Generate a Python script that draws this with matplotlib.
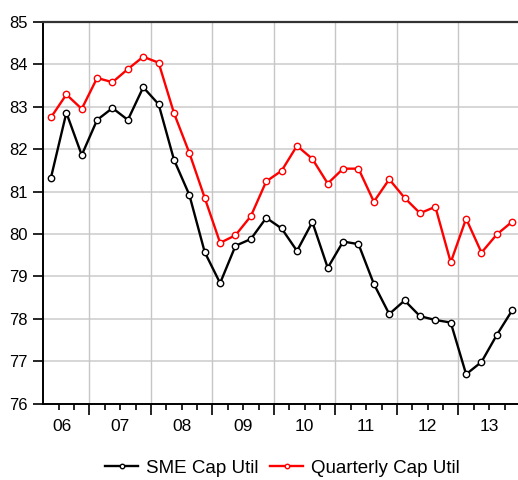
import matplotlib
matplotlib.use("Agg")
import matplotlib.pyplot as plt
from matplotlib.transforms import blended_transform_factory
import numpy as np

plt.rcParams['font.family'] = ['Liberation Sans', 'DejaVu Sans']

# Quarterly data 2006Q2 .. 2013Q4
start_year, start_q = 2006, 2
sme_cap_util = [81.33, 82.86, 81.86, 82.69, 82.97, 82.69, 83.46, 83.06,
                81.75, 80.92, 79.57, 78.84, 79.72, 79.88, 80.38, 80.13,
                79.60, 80.28, 79.20, 79.82, 79.76, 78.82, 78.11, 78.43,
                78.06, 77.97, 77.91, 76.69, 76.98, 77.62, 78.20]
quarterly_cap_util = [82.75, 83.29, 82.95, 83.68, 83.58, 83.89, 84.18, 84.04,
                      82.85, 81.91, 80.85, 79.79, 79.97, 80.42, 81.24, 81.49,
                      82.08, 81.77, 81.19, 81.54, 81.54, 80.76, 81.29, 80.85,
                      80.49, 80.64, 79.33, 80.36, 79.56, 79.99, 80.29]
year_labels = ['06', '07', '08', '09', '10', '11', '12', '13']
series_names = ['SME Cap Util', 'Quarterly Cap Util']

n = len(sme_cap_util)
t0 = start_year + (start_q - 1) / 4.0
x = t0 + np.arange(n) / 4.0 + 0.125

W, H = 518, 480
fig = plt.figure(figsize=(W / 100, H / 100), dpi=100)
left_px, top_px, bottom_px = 43.3, 22.0, 403.5
ax = fig.add_axes([left_px / W, (H - bottom_px) / H,
                   (518 - left_px) / W + 0.01, (bottom_px - top_px) / H])
x_right = t0 + ((518 - left_px) + 0.01 * W) / 61.5

ax.set_xlim(t0, x_right)
ax.set_ylim(76, 85)

# grid
years = np.arange(start_year + 1, 2014)
for yv in range(77, 85):
    ax.axhline(yv, color='#d6d6d6', lw=1.4, zorder=0)
for xv in years:
    ax.axvline(xv, color='#c6c6c6', lw=1.0, zorder=0)

ax.plot(x, sme_cap_util, color='black', lw=1.7, marker='o', ms=4.6,
        mfc='white', mec='black', mew=1.0, label=series_names[0], zorder=3)
ax.plot(x, quarterly_cap_util, color='#ff0000', lw=1.7, marker='o', ms=4.6,
        mfc='white', mec='#ff0000', mew=1.0, label=series_names[1], zorder=3)

# spines
ax.spines['right'].set_visible(False)
for s in ['left', 'bottom']:
    ax.spines[s].set_color('black')
    ax.spines[s].set_linewidth(1.4)
ax.spines['top'].set_color('#333333')
ax.spines['top'].set_linewidth(1.6)

# y ticks
ax.set_yticks(range(76, 86))
ax.tick_params(axis='y', direction='out', length=7, width=1.2, pad=4,
               labelsize=12, colors='black')

# x ticks: year boundaries major, quarters minor, labels as text
ax.set_xticks(years)
ax.set_xticklabels([])
quarters = np.arange(t0 + 0.25, x_right, 0.25)
ax.set_xticks([q for q in quarters if abs(q - round(q)) > 1e-6], minor=True)
ax.tick_params(axis='x', which='major', direction='out', length=8, width=1.2)
ax.tick_params(axis='x', which='minor', direction='out', length=4, width=1.2)

trans = blended_transform_factory(ax.transData, ax.transAxes)
label_pos = [t0 + 0.3] + [y + 0.5 for y in years]
for pos, lab in zip(label_pos, year_labels):
    ax.text(pos, -0.060, lab, transform=trans, ha='center', va='center',
            fontsize=12.5, color='black')

handles, labels = ax.get_legend_handles_labels()
fig.legend(handles, labels, loc='center', bbox_to_anchor=(282.5 / W, 1 - 468 / H),
           ncol=2, frameon=False, fontsize=13.5, handlelength=1.76,
           handletextpad=0.43, columnspacing=0.6, markerscale=0.7,
           borderpad=0.1)

fig.savefig('out.png', dpi=100)
